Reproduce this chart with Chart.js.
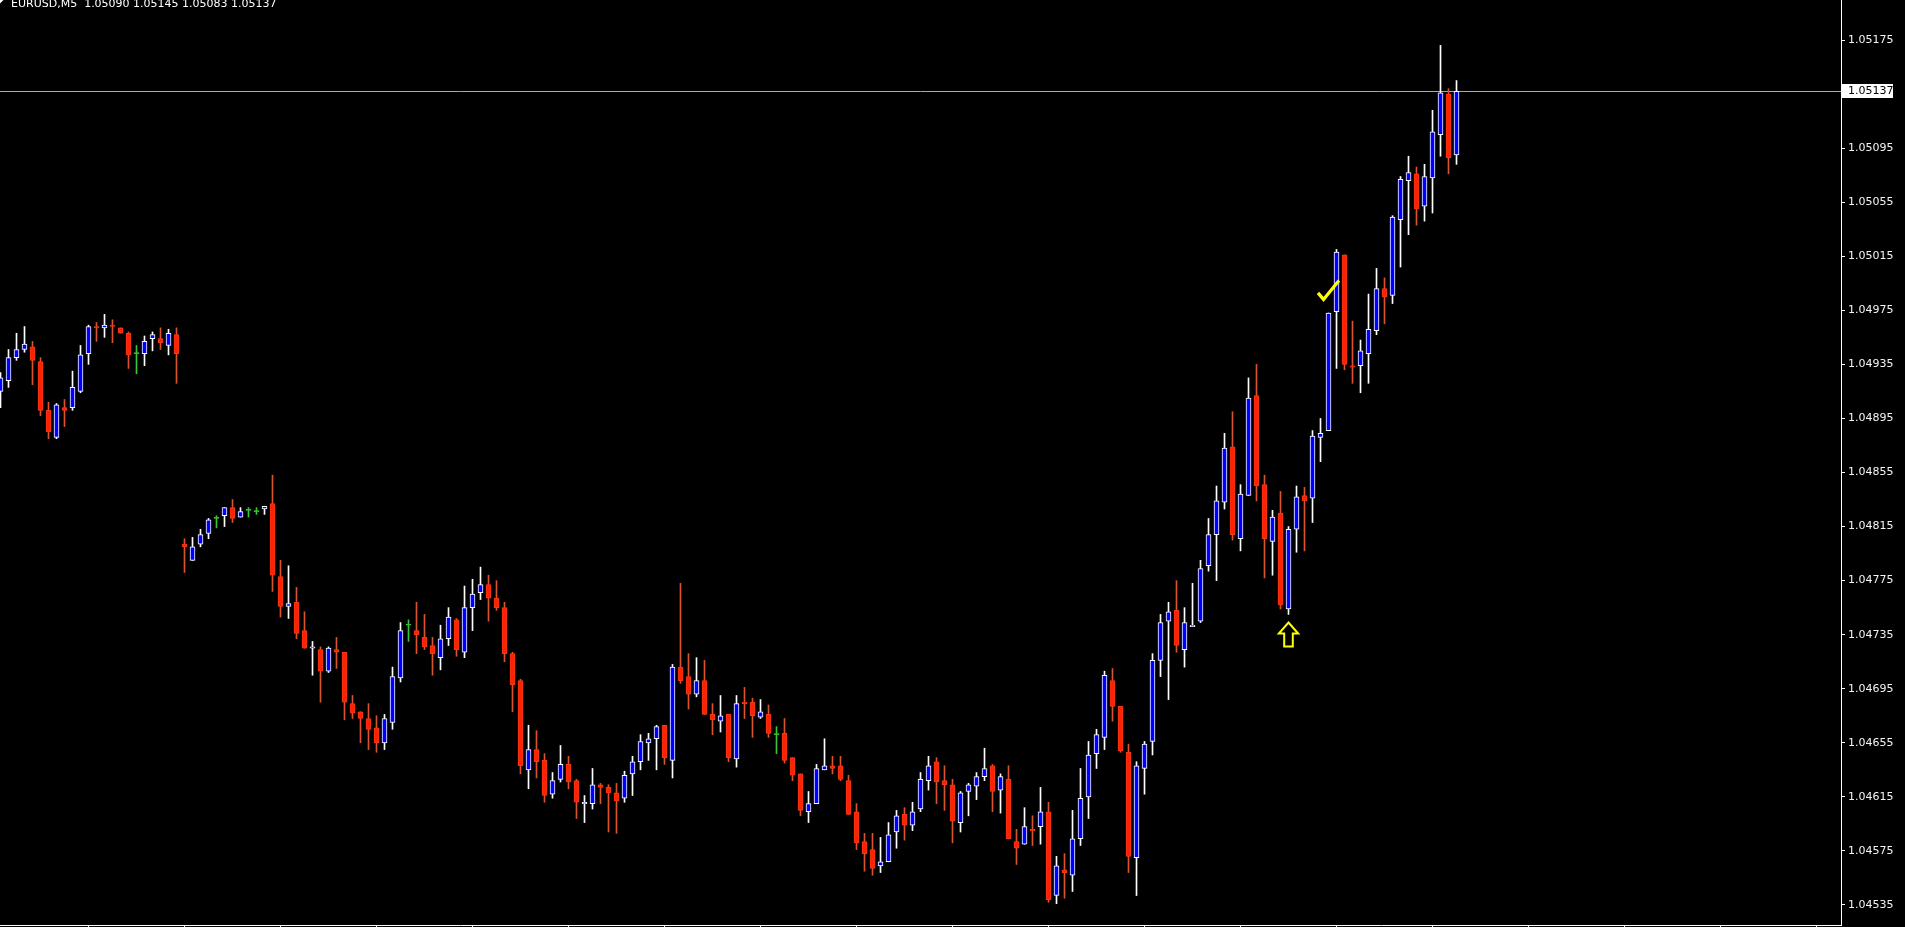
<!DOCTYPE html>
<html>
<head>
<meta charset="utf-8">
<script src="https://cdn.jsdelivr.net/npm/chart.js@4.4.1/dist/chart.umd.min.js"></script>
<style>
html, body { margin: 0; padding: 0; background: #000; overflow: hidden; }
#wrap { width: 1905px; height: 927px; }
</style>
</head>
<body>
<div id="wrap"><canvas id="chart0" width="1905" height="927"></canvas></div>
<script>
// EURUSD M5 bars (bar index = position from the left)
var symbol = 'EURUSD,M5';

var opens = [
  1.04915,1.04923,1.04940,1.04946,1.04948,1.04937,1.04901,1.04881,1.04903,1.04903,
  1.04915,1.04943,1.04963,1.04962,1.04964,1.04962,1.04958,1.04943,1.04943,1.04954,
  1.04954,1.04949,1.04957,1.04802,1.04790,1.04802,1.04810,1.04821,1.04823,1.04829,
  1.04822,1.04827,1.04826,1.04828,1.04832,1.04778,1.04756,1.04759,1.04738,1.04725,
  1.04724,1.04708,1.04724,1.04722,1.04684,1.04678,1.04673,1.04666,1.04655,1.04670,
  1.04703,1.04742,1.04738,1.04733,1.04727,1.04718,1.04732,1.04746,1.04722,1.04755,
  1.04766,1.04772,1.04762,1.04755,1.04721,1.04701,1.04635,1.04650,1.04642,1.04617,
  1.04628,1.04639,1.04627,1.04610,1.04610,1.04624,1.04622,1.04618,1.04614,1.04632,
  1.04641,1.04655,1.04658,1.04668,1.04642,1.04711,1.04704,1.04691,1.04701,1.04676,
  1.04671,1.04676,1.04643,1.04685,1.04685,1.04674,1.04676,1.04661,1.04662,1.04644,
  1.04632,1.04604,1.04610,1.04635,1.04638,1.04638,1.04627,1.04604,1.04582,1.04576,
  1.04564,1.04567,1.04589,1.04602,1.04594,1.04606,1.04627,1.04641,1.04627,1.04624,
  1.04596,1.04619,1.04623,1.04630,1.04638,1.04620,1.04628,1.04582,1.04580,1.04591,
  1.04593,1.04604,1.04542,1.04561,1.04557,1.04584,1.04615,1.04647,1.04659,1.04701,
  1.04682,1.04648,1.04570,1.04636,1.04656,1.04716,1.04745,1.04753,1.04724,1.04741,
  1.04745,1.04786,1.04809,1.04833,1.04874,1.04806,1.04838,1.04912,1.04846,1.04804,
  1.04825,1.04754,1.04813,1.04838,1.04836,1.04881,1.04886,1.04974,1.05016,1.04934,
  1.04934,1.04943,1.04960,1.04991,1.04986,1.05042,1.05071,1.05076,1.05052,1.05073,
  1.05105,1.05135,1.05090
];
var highs = [
  1.04929,1.04946,1.04958,1.04963,1.04952,1.04940,1.04907,1.04906,1.04909,1.04930,
  1.04949,1.04964,1.04966,1.04972,1.04968,1.04962,1.04959,1.04949,1.04956,1.04959,
  1.04962,1.04961,1.04962,1.04806,1.04807,1.04813,1.04821,1.04823,1.04829,1.04835,
  1.04829,1.04829,1.04829,1.04830,1.04853,1.04790,1.04786,1.04770,1.04752,1.04730,
  1.04726,1.04726,1.04733,1.04722,1.04690,1.04678,1.04684,1.04675,1.04676,1.04711,
  1.04744,1.04746,1.04759,1.04750,1.04733,1.04742,1.04755,1.04747,1.04771,1.04776,
  1.04785,1.04779,1.04775,1.04759,1.04722,1.04702,1.04668,1.04664,1.04647,1.04633,
  1.04653,1.04645,1.04628,1.04616,1.04636,1.04625,1.04624,1.04625,1.04634,1.04645,
  1.04661,1.04662,1.04668,1.04668,1.04713,1.04773,1.04721,1.04718,1.04716,1.04684,
  1.04690,1.04676,1.04690,1.04696,1.04688,1.04687,1.04683,1.04667,1.04673,1.04644,
  1.04632,1.04619,1.04639,1.04658,1.04645,1.04645,1.04631,1.04610,1.04588,1.04588,
  1.04585,1.04596,1.04605,1.04607,1.04611,1.04633,1.04645,1.04644,1.04638,1.04628,
  1.04619,1.04625,1.04633,1.04651,1.04639,1.04632,1.04638,1.04591,1.04607,1.04601,
  1.04622,1.04611,1.04571,1.04573,1.04605,1.04636,1.04656,1.04665,1.04708,1.04710,
  1.04682,1.04654,1.04641,1.04656,1.04721,1.04750,1.04759,1.04775,1.04755,1.04773,
  1.04790,1.04821,1.04845,1.04884,1.04900,1.04846,1.04925,1.04935,1.04853,1.04827,
  1.04841,1.04815,1.04845,1.04844,1.04886,1.04895,1.04973,1.05020,1.05016,1.04967,
  1.04953,1.04987,1.05006,1.04999,1.05045,1.05074,1.05089,1.05081,1.05083,1.05123,
  1.05171,1.05139,1.05145
];
var lows = [
  1.04903,1.04918,1.04938,1.04944,1.04920,1.04897,1.04880,1.04880,1.04889,1.04901,
  1.04914,1.04935,1.04952,1.04955,1.04951,1.04958,1.04932,1.04928,1.04934,1.04945,
  1.04946,1.04942,1.04921,1.04781,1.04790,1.04800,1.04806,1.04814,1.04815,1.04818,
  1.04822,1.04822,1.04824,1.04824,1.04767,1.04748,1.04747,1.04732,1.04725,1.04705,
  1.04685,1.04707,1.04710,1.04672,1.04673,1.04655,1.04650,1.04648,1.04650,1.04665,
  1.04700,1.04730,1.04721,1.04724,1.04705,1.04709,1.04727,1.04719,1.04718,1.04738,
  1.04761,1.04745,1.04753,1.04715,1.04678,1.04632,1.04621,1.04629,1.04611,1.04614,
  1.04626,1.04621,1.04599,1.04596,1.04606,1.04610,1.04589,1.04588,1.04611,1.04616,
  1.04635,1.04642,1.04635,1.04639,1.04629,1.04699,1.04680,1.04689,1.04676,1.04661,
  1.04663,1.04641,1.04637,1.04673,1.04659,1.04673,1.04659,1.04647,1.04640,1.04627,
  1.04601,1.04596,1.04610,1.04635,1.04632,1.04627,1.04602,1.04576,1.04560,1.04557,
  1.04559,1.04567,1.04577,1.04583,1.04590,1.04604,1.04620,1.04610,1.04605,1.04581,
  1.04589,1.04601,1.04613,1.04627,1.04604,1.04603,1.04584,1.04565,1.04580,1.04579,
  1.04580,1.04537,1.04536,1.04540,1.04545,1.04579,1.04599,1.04636,1.04650,1.04671,
  1.04648,1.04559,1.04542,1.04617,1.04646,1.04704,1.04687,1.04722,1.04711,1.04741,
  1.04744,1.04782,1.04775,1.04828,1.04805,1.04797,1.04838,1.04834,1.04777,1.04779,
  1.04754,1.04750,1.04796,1.04797,1.04818,1.04863,1.04886,1.04932,1.04931,1.04921,
  1.04914,1.04921,1.04957,1.04965,1.04980,1.05007,1.05031,1.05038,1.05041,1.05047,
  1.05089,1.05076,1.05083
];
var closes = [
  1.04925,1.04940,1.04946,1.04950,1.04938,1.04901,1.04885,1.04905,1.04901,1.04918,
  1.04942,1.04963,1.04962,1.04964,1.04963,1.04958,1.04942,1.04943,1.04952,1.04957,
  1.04951,1.04958,1.04943,1.04800,1.04800,1.04809,1.04820,1.04821,1.04829,1.04821,
  1.04826,1.04827,1.04826,1.04830,1.04779,1.04756,1.04758,1.04736,1.04725,1.04726,
  1.04708,1.04725,1.04722,1.04685,1.04677,1.04673,1.04665,1.04655,1.04673,1.04704,
  1.04738,1.04742,1.04735,1.04726,1.04721,1.04732,1.04748,1.04724,1.04755,1.04765,
  1.04772,1.04762,1.04755,1.04721,1.04698,1.04638,1.04650,1.04641,1.04616,1.04627,
  1.04639,1.04626,1.04611,1.04611,1.04624,1.04622,1.04618,1.04612,1.04631,1.04641,
  1.04656,1.04658,1.04667,1.04644,1.04711,1.04701,1.04691,1.04701,1.04676,1.04672,
  1.04675,1.04644,1.04684,1.04684,1.04675,1.04678,1.04662,1.04661,1.04642,1.04631,
  1.04605,1.04610,1.04636,1.04638,1.04636,1.04628,1.04602,1.04581,1.04573,1.04562,
  1.04567,1.04587,1.04601,1.04594,1.04604,1.04628,1.04638,1.04626,1.04624,1.04597,
  1.04618,1.04624,1.04630,1.04636,1.04619,1.04630,1.04584,1.04577,1.04593,1.04590,
  1.04604,1.04539,1.04564,1.04559,1.04584,1.04614,1.04646,1.04661,1.04705,1.04682,
  1.04649,1.04571,1.04638,1.04654,1.04716,1.04744,1.04752,1.04727,1.04744,1.04742,
  1.04784,1.04809,1.04834,1.04873,1.04809,1.04839,1.04910,1.04845,1.04806,1.04822,
  1.04757,1.04813,1.04837,1.04834,1.04882,1.04884,1.04973,1.05018,1.04935,1.04933,
  1.04945,1.04961,1.04991,1.04985,1.05044,1.05072,1.05077,1.05050,1.05074,1.05107,
  1.05136,1.05088,1.05137
];

// price scale labels on the right
var yTicks = [1.04535,1.04575,1.04615,1.04655,1.04695,1.04735,1.04775,1.04815,
              1.04855,1.04895,1.04935,1.04975,1.05015,1.05055,1.05095,1.05175];
// bars carrying an hour mark on the time axis
var hourBars = [11,23,35,47,59,71,83,95,107,119,131,143,155,167,179,191,203,215,227];

// hand drawn marks on the chart: bar index and price
var arrowMarks = [{bar: 161, price: 1.04744}];
var checkMarks = [{bar: 166, price: 1.04989}];

var yMin = 1.045202, yMax = 1.052046;
var xMin = -0.0625, xMax = 230.0625;

var bullFill = '#0000ff', bullLine = '#ffffff';
var bearFill = '#ff2000', bearLine = '#f03a18', bearWick = '#d9532b';
var dojiColor = '#39c439';

function kind(i) {
    if (closes[i] > opens[i]) return 1;
    if (closes[i] < opens[i]) return -1;
    return 0;
}

var bodyData = opens.map(function (o, i) { return {x: i, y: [o, closes[i]]}; });
var wickData = lows.map(function (l, i) { return {x: i, y: [l, highs[i]]}; });

var overlay = {
    id: 'overlay',
    beforeDatasetsDraw: function (chart) {
        var c = chart.ctx, a = chart.chartArea;
        var y = Math.round(chart.scales.y.getPixelForValue(closes[closes.length - 1])) + 0.5;
        c.save();
        c.strokeStyle = '#a9a9a9';
        c.lineWidth = 1;
        c.beginPath();
        c.moveTo(a.left, y);
        c.lineTo(a.right, y);
        c.stroke();
        c.restore();
    },
    afterDraw: function (chart) {
        var c = chart.ctx, a = chart.chartArea;
        var xs = chart.scales.x, ys = chart.scales.y;
        var last = closes.length - 1;
        c.save();

        // header
        c.fillStyle = '#ffffff';
        c.beginPath();
        c.moveTo(0, 0); c.lineTo(3.5, 0); c.lineTo(0, 3.5);
        c.closePath();
        c.fill();
        c.font = '11px "DejaVu Sans"';
        c.textBaseline = 'alphabetic';
        c.textAlign = 'left';
        c.fillText(symbol + '  ' + opens[last].toFixed(5) + ' ' + highs[last].toFixed(5) + ' ' +
                   lows[last].toFixed(5) + ' ' + closes[last].toFixed(5), 11, 7);

        // current price box on the axis
        var py = Math.round(ys.getPixelForValue(closes[last]));
        c.fillStyle = '#ffffff';
        c.fillRect(a.right + 1, py - 7, 51, 14);
        c.fillStyle = '#000000';
        c.textBaseline = 'middle';
        c.fillText(closes[last].toFixed(5), a.right + 7, py + 0.5);

        // yellow marks
        c.strokeStyle = '#ffff00';
        c.lineJoin = 'miter';
        arrowMarks.forEach(function (m) {
            var x = xs.getPixelForValue(m.bar), y = ys.getPixelForValue(m.price);
            c.lineWidth = 2;
            c.beginPath();
            c.moveTo(x, y);
            c.lineTo(x + 9.7, y + 11);
            c.lineTo(x + 4.3, y + 11);
            c.lineTo(x + 4.3, y + 24);
            c.lineTo(x - 4.3, y + 24);
            c.lineTo(x - 4.3, y + 11);
            c.lineTo(x - 9.7, y + 11);
            c.closePath();
            c.stroke();
        });
        checkMarks.forEach(function (m) {
            var x = xs.getPixelForValue(m.bar), y = ys.getPixelForValue(m.price);
            c.lineWidth = 3.2;
            c.beginPath();
            c.moveTo(x - 10.5, y + 1.5);
            c.lineTo(x - 5, y + 8);
            c.lineTo(x + 10.5, y - 11);
            c.stroke();
        });
        c.restore();
    }
};

var ctx = document.getElementById('chart0').getContext('2d');

var chart = new Chart(ctx, {
    type: 'bar',
    data: {
        datasets: [{
            label: 'body',
            data: bodyData,
            order: 0,
            grouped: false,
            barThickness: 5,
            minBarLength: 1,
            borderWidth: 1,
            borderSkipped: false,
            backgroundColor: function (c) {
                var k = kind(c.dataIndex);
                return k > 0 ? bullFill : (k < 0 ? bearFill : dojiColor);
            },
            borderColor: function (c) {
                var k = kind(c.dataIndex);
                return k > 0 ? bullLine : (k < 0 ? bearLine : dojiColor);
            }
        }, {
            label: 'wick',
            data: wickData,
            order: 1,
            grouped: false,
            barThickness: 1,
            borderWidth: 0,
            backgroundColor: function (c) {
                var k = kind(c.dataIndex);
                return k > 0 ? bullLine : (k < 0 ? bearWick : dojiColor);
            }
        }]
    },
    options: {
        responsive: false,
        animation: false,
        layout: { padding: 0 },
        plugins: { legend: { display: false }, tooltip: { enabled: false } },
        scales: {
            x: {
                type: 'linear',
                min: xMin,
                max: xMax,
                offset: false,
                afterBuildTicks: function (s) { s.ticks = hourBars.map(function (v) { return {value: v}; }); },
                afterFit: function (s) { s.height = 2; },
                ticks: { display: false },
                grid: { offset: false, drawOnChartArea: false, color: '#ffffff', tickLength: 4 },
                border: { color: '#ffffff' }
            },
            y: {
                position: 'right',
                min: yMin,
                max: yMax,
                afterBuildTicks: function (s) { s.ticks = yTicks.map(function (v) { return {value: v}; }); },
                afterFit: function (s) { s.width = 64; s.paddingTop = 0; s.paddingBottom = 0; },
                ticks: {
                    color: '#f4f4f4',
                    padding: 3,
                    font: { family: 'DejaVu Sans', size: 11 },
                    callback: function (v) { return Number(v).toFixed(5); }
                },
                grid: { drawOnChartArea: false, color: '#ffffff', tickLength: 4 },
                border: { color: '#ffffff' }
            }
        }
    },
    plugins: [overlay]
});
</script>
</body>
</html>
